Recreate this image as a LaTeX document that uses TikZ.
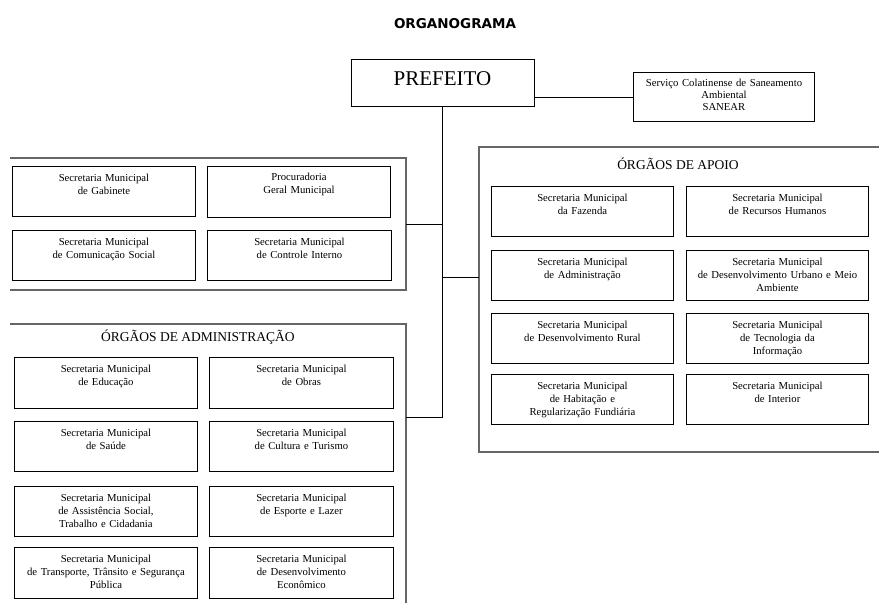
\documentclass[tikz,border=0pt]{standalone}
\usepackage{fontspec}
\setmainfont{Liberation Serif}
\newfontfamily\headfont{DejaVu Sans}
\usetikzlibrary{positioning}

\tikzset{
  secbox/.style={draw,line width=0.9pt,inner sep=0pt,text width=183pt,align=center,
    text height=15pt,text depth=35pt,anchor=north west,font=\fontsize{10.7}{13}\selectfont},
  grpframe/.style={draw=black!60,line width=1.3pt},
  grptitle/.style={font=\fontsize{13.5}{16}\selectfont},
  link/.style={draw,line width=0.9pt}
}

\begin{document}
\begin{tikzpicture}[x=1pt,y=-1pt]
\useasboundingbox (0,0) rectangle (879,603);

\node[font=\headfont\bfseries\fontsize{13.5}{16}\selectfont] (title) at (455,24) {ORGANOGRAMA};

% top
\node[draw,line width=0.9pt,inner sep=0pt,minimum width=183pt,text height=26pt,text depth=21pt,font=\fontsize{21}{24}\selectfont] (pref) at (442.5,82.5) {PREFEITO};
\node[secbox,text width=181pt,text height=14pt,text depth=35pt,font=\fontsize{10.7}{12}\selectfont] (sanear) at (633,72) {Serviço Colatinense de Saneamento\\Ambiental\\SANEAR};

% gabinete group
\draw[grpframe] (10,158) -- (406,158) -- (406,290) -- (10,290);
\node[secbox] (gab) at (12,166) {Secretaria Municipal\\de Gabinete};
\node[secbox,text height=14pt,text depth=37pt] (proc) at (207,166) {Procuradoria\\Geral Municipal};
\node[secbox] (com) at (12,230) {Secretaria Municipal\\de Comunicação Social};
\node[secbox,text width=184pt] (ctrl) at (207,230) {Secretaria Municipal\\de Controle Interno};
\coordinate (gab_r) at (406,224);

% administracao group
\draw[grpframe] (10,324) -- (406,324) -- (406,603);
\node[grptitle] (adm_t) at (198,337) {ÓRGÃOS DE ADMINISTRAÇÃO};
\node[secbox,text depth=36pt] (edu) at (14,357) {Secretaria Municipal\\de Educação};
\node[secbox,text width=184pt,text depth=36pt] (obras) at (209,357) {Secretaria Municipal\\de Obras};
\node[secbox] (saude) at (14,421) {Secretaria Municipal\\de Saúde};
\node[secbox,text width=184pt] (cult) at (209,421) {Secretaria Municipal\\de Cultura e Turismo};
\node[secbox] (assist) at (14,486) {Secretaria Municipal\\de Assistência Social,\\Trabalho e Cidadania};
\node[secbox,text width=184pt] (esp) at (209,486) {Secretaria Municipal\\de Esporte e Lazer};
\node[secbox,text depth=36pt] (transp) at (14,547) {Secretaria Municipal\\de Transporte, Trânsito e Segurança\\Pública};
\node[secbox,text width=184pt,text depth=36pt] (econ) at (209,547) {Secretaria Municipal\\de Desenvolvimento\\Econômico};
\coordinate (adm_r) at (406,417);

% apoio group
\draw[grpframe] (879,147) -- (479,147) -- (479,452) -- (879,452);
\node[grptitle] (apo_t) at (678,164) {ÓRGÃOS DE APOIO};
\node[secbox,text width=182pt] (faz) at (491,186) {Secretaria Municipal\\da Fazenda};
\node[secbox,text width=182pt] (rh) at (686,186) {Secretaria Municipal\\de Recursos Humanos};
\node[secbox,text width=182pt] (admin) at (491,250) {Secretaria Municipal\\de Administração};
\node[secbox,text width=182pt] (urb) at (686,250) {Secretaria Municipal\\de Desenvolvimento Urbano e Meio\\Ambiente};
\node[secbox,text width=182pt] (rural) at (491,313) {Secretaria Municipal\\de Desenvolvimento Rural};
\node[secbox,text width=182pt] (tec) at (686,313) {Secretaria Municipal\\de Tecnologia da\\Informação};
\node[secbox,text width=182pt] (hab) at (491,374) {Secretaria Municipal\\de Habitação e\\Regularização Fundiária};
\node[secbox,text width=182pt] (inter) at (686,374) {Secretaria Municipal\\de Interior};
\coordinate (apo_l) at (479,277);

% links
\draw[link] (pref.east |- sanear.west) -- (sanear.west);
\draw[link] (pref.south) -- (pref.south |- adm_r) -- (adm_r);
\draw[link] (gab_r) -- (gab_r -| pref.south);
\draw[link] (apo_l -| pref.south) -- (apo_l);
\end{tikzpicture}
\end{document}
